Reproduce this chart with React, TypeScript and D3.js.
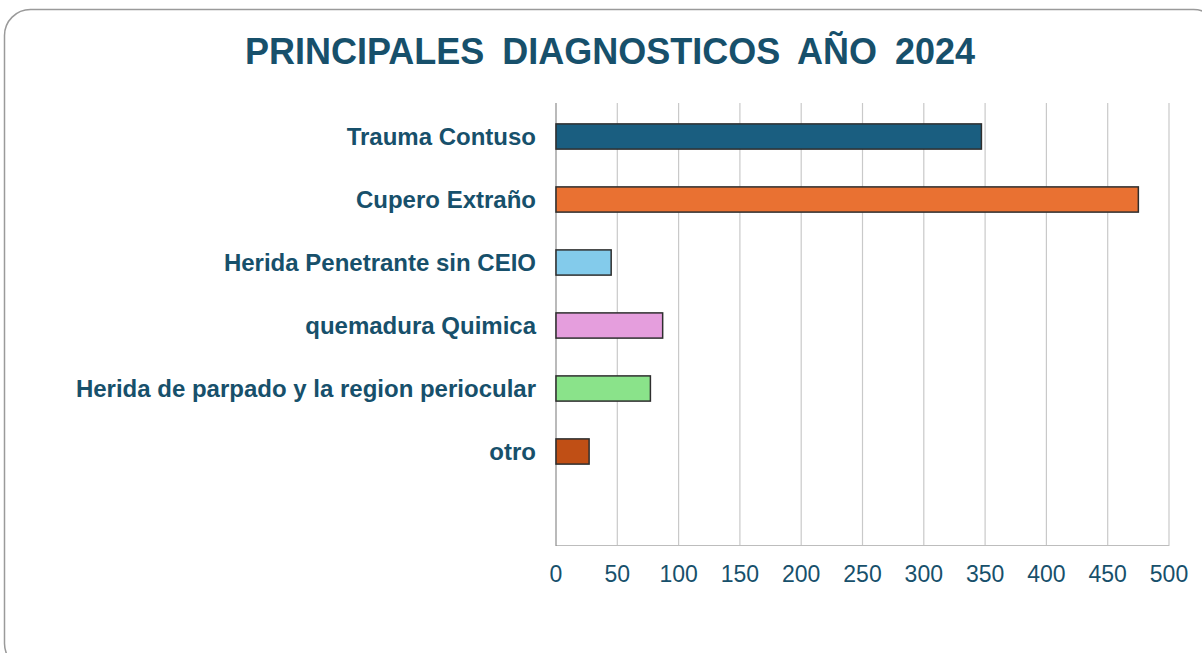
import { useEffect, useRef } from 'react'
import * as d3 from 'd3'

const categories = [
  'Trauma Contuso',
  'Cupero Extraño',
  'Herida Penetrante sin CEIO',
  'quemadura Quimica',
  'Herida de parpado y la region periocular',
  'otro',
]
const values = [347, 475, 45, 87, 77, 27]
const barColors = ['#1a5e80', '#e97132', '#83cbeb', '#e59edd', '#8ae38a', '#c04f15']
const xTicks = [0, 50, 100, 150, 200, 250, 300, 350, 400, 450, 500]
const title = 'PRINCIPALES DIAGNOSTICOS AÑO 2024'

export default function App() {
  const svgRef = useRef<SVGSVGElement>(null)

  useEffect(() => {
    document.body.style.margin = '0'
    const svg = d3.select(svgRef.current)
    svg.selectAll('*').remove()

    const textColor = '#17506b'
    const font = '"Liberation Sans", Arial, sans-serif'

    // frame
    svg.append('rect')
      .attr('x', 4.5).attr('y', 9.5)
      .attr('width', 1215).attr('height', 660)
      .attr('rx', 26).attr('ry', 26)
      .attr('fill', '#fff')
      .attr('stroke', '#9a9a9a')
      .attr('stroke-width', 1.5)

    svg.append('text')
      .attr('x', 610).attr('y', 64)
      .attr('text-anchor', 'middle')
      .attr('font-family', font)
      .attr('font-weight', 'bold')
      .attr('font-size', 36)
      .attr('word-spacing', 8)
      .attr('fill', textColor)
      .text(title)

    const x = d3.scaleLinear().domain([0, 500]).range([556, 1169])
    // one blank slot at the bottom, like the original
    const y = d3.scaleBand<string>()
      .domain([...categories, ''])
      .range([105, 546])
      .paddingInner(0.6)
      .paddingOuter(0.3)

    // grid
    svg.append('g')
      .selectAll('line')
      .data(xTicks.slice(1))
      .join('line')
      .attr('x1', (d) => x(d)).attr('x2', (d) => x(d))
      .attr('y1', 103).attr('y2', 546)
      .attr('stroke', '#c9c9c9')
      .attr('stroke-width', 1.2)

    // bottom axis line
    svg.append('line')
      .attr('x1', x(0)).attr('x2', x(500))
      .attr('y1', 545.5).attr('y2', 545.5)
      .attr('stroke', '#bdbdbd')
      .attr('stroke-width', 1.2)

    // left axis line
    svg.append('line')
      .attr('x1', x(0)).attr('x2', x(0))
      .attr('y1', 103).attr('y2', 546)
      .attr('stroke', '#8c8c8c')
      .attr('stroke-width', 1.2)

    // bars
    svg.append('g')
      .selectAll('rect')
      .data(values)
      .join('rect')
      .attr('x', x(0))
      .attr('y', (_, i) => y(categories[i])!)
      .attr('width', (d) => x(d) - x(0))
      .attr('height', y.bandwidth())
      .attr('fill', (_, i) => barColors[i])
      .attr('stroke', '#2e2e2e')
      .attr('stroke-width', 1.5)

    // category labels
    svg.append('g')
      .selectAll('text')
      .data(categories)
      .join('text')
      .attr('x', 536)
      .attr('y', (d) => y(d)! + y.bandwidth() / 2)
      .attr('dy', '0.35em')
      .attr('text-anchor', 'end')
      .attr('font-family', font)
      .attr('font-weight', 'bold')
      .attr('font-size', 24)
      .attr('fill', textColor)
      .text((d) => d)

    // tick labels
    svg.append('g')
      .selectAll('text')
      .data(xTicks)
      .join('text')
      .attr('x', (d) => x(d))
      .attr('y', 582)
      .attr('text-anchor', 'middle')
      .attr('font-family', font)
      .attr('font-size', 23)
      .attr('fill', textColor)
      .text((d) => d)
  }, [])

  return (
    <svg
      ref={svgRef}
      width={1202}
      height={653}
      style={{ display: 'block', position: 'absolute', left: 0, top: 0 }}
    />
  )
}
